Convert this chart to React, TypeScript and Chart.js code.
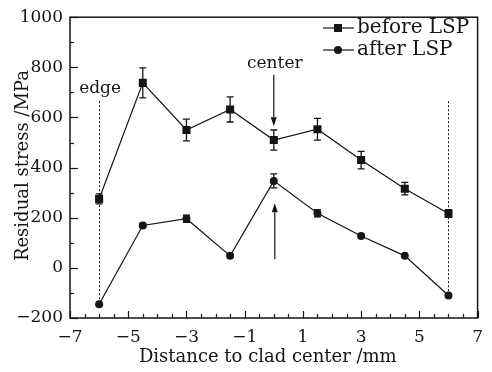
import React, { useEffect, useRef } from "react";
import { Chart, registerables } from "chart.js";

Chart.register(...registerables);

const xPositions = [-6, -4.5, -3, -1.5, 0, 1.5, 3, 4.5, 6];
const beforeValues = [275, 738, 550, 632, 510, 553, 430, 316, 217];
const beforeErrors = [20, 60, 43, 50, 40, 43, 35, 25, 15];
const afterValues = [-145, 169, 196, 48, 347, 218, 127, 48, -110];
const afterErrors = [0, 8, 14, 0, 28, 14, 0, 0, 0];
const seriesNames = ["before LSP", "after LSP"];

const xMin = -7, xMax = 7, xStep = 2;
const yMin = -200, yMax = 1000, yStep = 200;

const edgeX = [-6, 6];
const edgeTopValue = 665;
const edgeLabelValue = 717;
const centerLabelValue = 815;
const centerArrowFrom = 770, centerArrowTo = 565;
const upArrowFrom = 35, upArrowTo = 258;

const FONT = "'DejaVu Serif', serif";
const INK = "#151515";

const fmt = (v: number) => String(v).replace("-", "\u2212");

function arrow(ctx: CanvasRenderingContext2D, x: number, y1: number, y2: number) {
  const dir = y2 > y1 ? 1 : -1;
  const head = 9;
  ctx.beginPath();
  ctx.moveTo(x, y1);
  ctx.lineTo(x, y2 - dir * head);
  ctx.stroke();
  ctx.beginPath();
  ctx.moveTo(x, y2);
  ctx.lineTo(x - 3, y2 - dir * head);
  ctx.lineTo(x + 3, y2 - dir * head);
  ctx.closePath();
  ctx.fill();
}

const decorPlugin = {
  id: "decor",
  beforeDatasetsDraw(chart: any) {
    const ctx = chart.ctx as CanvasRenderingContext2D;
    const xs = chart.scales.x;
    const ys = chart.scales.y;
    ctx.save();
    ctx.strokeStyle = INK;
    ctx.fillStyle = INK;
    ctx.lineWidth = 1;
    ctx.setLineDash([2, 2]);
    edgeX.forEach((ex) => {
      const i = xPositions.indexOf(ex);
      const px = Math.round(xs.getPixelForValue(ex)) + 0.5;
      ctx.beginPath();
      ctx.moveTo(px, ys.getPixelForValue(edgeTopValue));
      ctx.lineTo(px, ys.getPixelForValue(afterValues[i]));
      ctx.stroke();
    });
    ctx.setLineDash([]);
    ctx.lineWidth = 1.3;
    const drawErr = (vals: number[], errs: number[]) => {
      vals.forEach((v, i) => {
        if (!errs[i]) return;
        const px = xs.getPixelForValue(xPositions[i]);
        const top = ys.getPixelForValue(v + errs[i]);
        const bot = ys.getPixelForValue(v - errs[i]);
        ctx.beginPath();
        ctx.moveTo(px, top);
        ctx.lineTo(px, bot);
        ctx.moveTo(px - 3.5, top);
        ctx.lineTo(px + 3.5, top);
        ctx.moveTo(px - 3.5, bot);
        ctx.lineTo(px + 3.5, bot);
        ctx.stroke();
      });
    };
    drawErr(beforeValues, beforeErrors);
    drawErr(afterValues, afterErrors);
    ctx.restore();
  },
  afterDraw(chart: any) {
    const ctx = chart.ctx as CanvasRenderingContext2D;
    const xs = chart.scales.x;
    const ys = chart.scales.y;
    const a = chart.chartArea;
    ctx.save();
    ctx.strokeStyle = INK;
    ctx.fillStyle = INK;
    ctx.lineWidth = 1.5;
    ctx.strokeRect(a.left, a.top, a.right - a.left, a.bottom - a.top);
    ctx.lineWidth = 1.2;
    for (let v = xMin; v <= xMax + 1e-9; v += 0.5) {
      const px = Math.round(xs.getPixelForValue(v)) + 0.5;
      const major = Math.abs((v - xMin) % xStep) < 1e-9;
      const len = major ? 7 : 4;
      ctx.beginPath();
      ctx.moveTo(px, a.bottom);
      ctx.lineTo(px, a.bottom - len);
      ctx.stroke();
    }
    for (let v = yMin; v <= yMax + 1e-9; v += 100) {
      const py = Math.round(ys.getPixelForValue(v)) + 0.5;
      const major = Math.abs((v - yMin) % yStep) < 1e-9;
      const len = major ? 8 : 4;
      ctx.beginPath();
      ctx.moveTo(a.left, py);
      ctx.lineTo(a.left + len, py);
      ctx.stroke();
    }
    ctx.font = `18px ${FONT}`;
    ctx.textAlign = "center";
    ctx.textBaseline = "middle";
    ctx.fillText("Distance to clad center /mm", (a.left + a.right) / 2 - 6, 357);
    ctx.save();
    ctx.translate(23, (a.top + a.bottom) / 2 - 2);
    ctx.rotate(-Math.PI / 2);
    ctx.fillText("Residual stress /MPa", 0, 0);
    ctx.restore();
    ctx.font = `17px ${FONT}`;
    ctx.fillText("edge", xs.getPixelForValue(-6) + 1, ys.getPixelForValue(edgeLabelValue));
    ctx.fillText("center", xs.getPixelForValue(0) + 1, ys.getPixelForValue(centerLabelValue));
    ctx.lineWidth = 1.2;
    const cx = xs.getPixelForValue(0);
    arrow(ctx, cx, ys.getPixelForValue(centerArrowFrom), ys.getPixelForValue(centerArrowTo));
    arrow(ctx, cx + 1, ys.getPixelForValue(upArrowFrom), ys.getPixelForValue(upArrowTo));
    ctx.font = `20px ${FONT}`;
    const rows = [28, 50];
    rows.forEach((ry, i) => {
      ctx.lineWidth = 1.2;
      ctx.beginPath();
      ctx.moveTo(323, ry);
      ctx.lineTo(354, ry);
      ctx.stroke();
      if (i === 0) {
        ctx.fillRect(334, ry - 4, 8, 8);
      } else {
        ctx.beginPath();
        ctx.arc(338, ry, 4, 0, Math.PI * 2);
        ctx.fill();
      }
      ctx.textAlign = "left";
      ctx.fillText(seriesNames[i], 357, ry);
    });
    ctx.restore();
  },
};

export default function App() {
  const ref = useRef<HTMLCanvasElement | null>(null);
  useEffect(() => {
    if (!ref.current) return;
    const mk = (vals: number[]) => vals.map((v, i) => ({ x: xPositions[i], y: v }));
    const chart = new Chart(ref.current, {
      type: "line",
      data: {
        datasets: [
          {
            label: seriesNames[0],
            data: mk(beforeValues),
            borderColor: INK,
            backgroundColor: INK,
            borderWidth: 1.2,
            pointStyle: "rect",
            pointRadius: 5.7,
            pointBorderWidth: 0,
            pointBackgroundColor: INK,
          },
          {
            label: seriesNames[1],
            data: mk(afterValues),
            borderColor: INK,
            backgroundColor: INK,
            borderWidth: 1.2,
            pointStyle: "circle",
            pointRadius: 4,
            pointBorderWidth: 0,
            pointBackgroundColor: INK,
          },
        ],
      },
      options: {
        animation: false,
        responsive: false,
        maintainAspectRatio: false,
        layout: { padding: { top: 13, right: 6, left: 0, bottom: 0 } },
        plugins: { legend: { display: false }, tooltip: { enabled: false } },
        scales: {
          x: {
            type: "linear",
            min: xMin,
            max: xMax,
            grid: { display: false, drawTicks: false },
            border: { display: false },
            ticks: {
              stepSize: xStep,
              padding: 9,
              color: INK,
              font: { family: FONT, size: 17 },
              maxRotation: 0,
              callback: (v: any) => fmt(v),
            },
            afterFit: (s: any) => {
              s.height = 54;
            },
          },
          y: {
            min: yMin,
            max: yMax,
            grid: { display: false, drawTicks: false },
            border: { display: false },
            ticks: {
              stepSize: yStep,
              padding: 7,
              color: INK,
              font: { family: FONT, size: 17 },
              callback: (v: any) => fmt(v),
            },
            afterFit: (s: any) => {
              s.width = 70;
            },
          },
        },
      },
      plugins: [decorPlugin],
    });
    return () => chart.destroy();
  }, []);
  return (
    <div style={{ position: "absolute", left: 0, top: 0, width: 492, height: 372, background: "#fff" }}>
      <canvas ref={ref} width={492} height={372} style={{ width: 492, height: 372 }} />
    </div>
  );
}
